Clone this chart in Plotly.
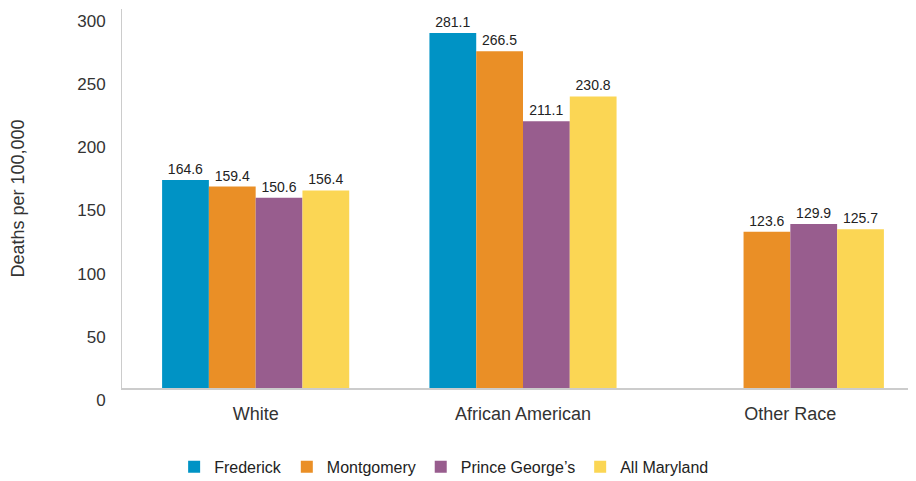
import plotly.graph_objects as go

categories = ["White", "African American", "Other Race"]
frederick = [164.6, 281.1, None]
montgomery = [159.4, 266.5, 123.6]
prince_georges = [150.6, 211.1, 129.9]
all_maryland = [156.4, 230.8, 125.7]

series = [
    ("Frederick", frederick, "#0093C5"),
    ("Montgomery", montgomery, "#EA8F26"),
    ("Prince George\u2019s", prince_georges, "#985D8E"),
    ("All Maryland", all_maryland, "#FBD654"),
]

font_family = "Liberation Sans, Arial, sans-serif"
fig = go.Figure()
for name, vals, color in series:
    fig.add_trace(go.Bar(
        x=categories, y=vals, name=name,
        marker=dict(color=color, line=dict(width=0)),
        text=[("%.1f" % v) if v is not None else "" for v in vals],
        textposition="outside",
        textfont=dict(size=14, color="#222", family=font_family),
        cliponaxis=False,
    ))

fig.update_layout(
    width=916, height=481,
    margin=dict(l=114, r=0, t=1, b=101, autoexpand=False),
    barmode="group", bargap=0.3, bargroupgap=0,
    plot_bgcolor="white", paper_bgcolor="white",
    font=dict(family=font_family, color="#333"),
    showlegend=True,
    legend=dict(orientation="h", x=0.065, xanchor="left", y=-0.208, yanchor="middle",
                font=dict(size=16, color="#222"), itemwidth=30,
                traceorder="normal"),
)
fig.update_xaxes(
    showline=True, linecolor="#cccccc", linewidth=2, automargin=False,
    tickfont=dict(size=18, color="#333"), ticks="", showgrid=False,
    ticklabelstandoff=8,
)
fig.update_yaxes(
    range=[0, 300], dtick=50, showgrid=False, zeroline=False,
    showline=True, linecolor="#cccccc", linewidth=1,
    tickfont=dict(size=17, color="#333"), ticks="", ticklabelstandoff=12,
    ticklabelposition="outside bottom", ticklabeloverflow="allow",
    title=dict(text="Deaths per 100,000", font=dict(size=18, color="#333"), standoff=54),
)

fig.write_html("out.html")
